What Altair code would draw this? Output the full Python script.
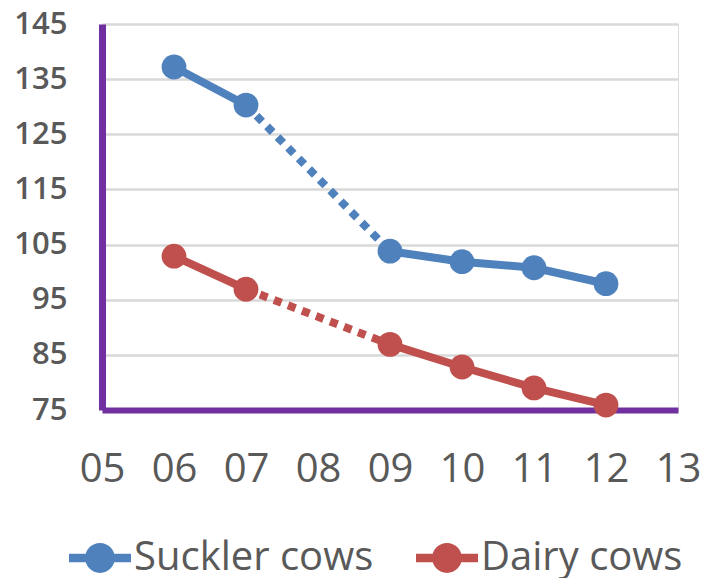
import altair as alt
import pandas as pd

years = [6, 7, 9, 10, 11, 12]
suckler = [137.2, 130.3, 103.8, 101.9, 100.8, 97.9]
dairy = [102.9, 96.9, 86.9, 82.8, 79.0, 75.9]
series_names = ["Suckler cows", "Dairy cows"]
colors = ["#4f81bd", "#c0504d"]
y_ticks = [75, 85, 95, 105, 115, 125, 135, 145]
x_ticks = [5, 6, 7, 8, 9, 10, 11, 12, 13]

rows = []
for name, vals in zip(series_names, [suckler, dairy]):
    for yr, v in zip(years, vals):
        rows.append({"series": name, "year": yr, "value": v})
pts = pd.DataFrame(rows)

solid_rows = []
dot_rows = []
for r in rows:
    seg = "early" if r["year"] <= 7 else "late"
    solid_rows.append({**r, "seg": seg})
    if r["year"] in (7, 9):
        dot_rows.append({**r, "seg": "gap"})
solid = pd.DataFrame(solid_rows)
dotted = pd.DataFrame(dot_rows)

FONT = "Open Sans"
GRAY = "#595959"
PURPLE = "#7030a0"

xs = alt.Scale(domain=[5, 13], nice=False, zero=False)
ys = alt.Scale(domain=[75, 145], nice=False, zero=False)
cs = alt.Scale(domain=series_names, range=colors)

x_axis = alt.Axis(values=x_ticks, grid=False, ticks=False, domainColor=PURPLE,
                  domainWidth=6, labelFontSize=40, labelColor=GRAY, labelFont=FONT,
                  labelPadding=39, labelFlush=False, labelOverlap=False, title=None,
                  labelExpr="datum.value < 10 ? '0' + datum.value : '' + datum.value")
y_axis = alt.Axis(values=y_ticks, grid=True, gridColor="#d9d9d9", gridWidth=2.5,
                  ticks=False, domainColor=PURPLE, domainWidth=7,
                  labelFontSize=31, labelColor=GRAY, labelFont=FONT, labelFontWeight=600,
                  labelPadding=35, labelFlush=False, labelOverlap=False, title=None)

sym = ("M-1,-0.14 L1,-0.14 L1,0.14 L-1,0.14 Z "
       "M-0.48,0 A0.48,0.48 0 1,1 0.48,0 A0.48,0.48 0 1,1 -0.48,0 Z")

legend = alt.Legend(orient="none", direction="horizontal", legendX=-33, legendY=503,
                    title=None, symbolType=sym, symbolSize=3844, symbolStrokeWidth=0,
                    symbolOpacity=1,
                    labelFontSize=40, labelFont=FONT, labelColor=GRAY, labelOffset=3,
                    columnPadding=42, labelLimit=400)

base_x = alt.X("year:Q", scale=xs, axis=x_axis)
base_y = alt.Y("value:Q", scale=ys, axis=y_axis)
col = alt.Color("series:N", scale=cs, legend=legend, sort=series_names)

solid_line = alt.Chart(solid).mark_line(strokeWidth=8).encode(
    x=base_x, y=base_y, color=col, detail="seg:N",
)
dot_line = alt.Chart(dotted).mark_line(strokeWidth=8, strokeDash=[8, 7], strokeCap="butt").encode(
    x=base_x, y=base_y, color=col,
)
points = alt.Chart(pts).mark_point(filled=True, size=615, opacity=1).encode(
    x=base_x, y=base_y, color=col,
)

chart = alt.layer(solid_line, dot_line, points).properties(
    width=576, height=386,
    autosize=alt.AutoSizeParams(type="none"),
    padding={"left": 94, "top": 16, "right": 26, "bottom": 168},
).configure_view(stroke=None).configure(background="white")

chart.save("out.html", embed_options={"renderer": "svg", "actions": False})
